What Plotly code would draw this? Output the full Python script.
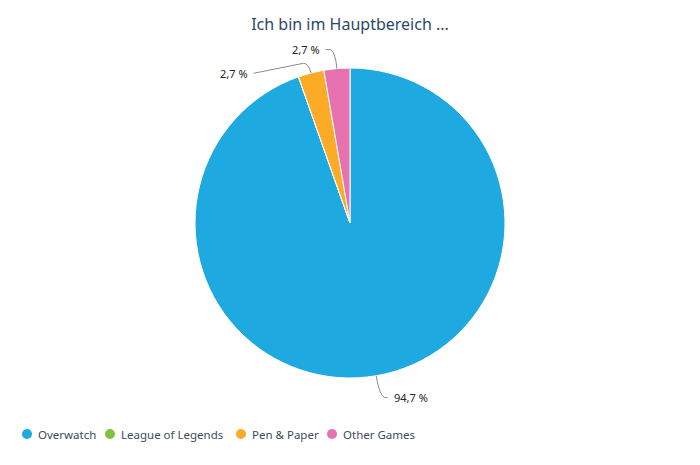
import math
import plotly.graph_objects as go

# data
categories = ["Overwatch", "League of Legends", "Pen & Paper", "Other Games"]
shares = [94.7, 0.0, 2.7, 2.7]
colors = ["#1fa9e1", "#80c342", "#fbab26", "#e871b0"]
title = "Ich bin im Hauptbereich ..."

W, H = 700, 465
mt, mb = 68, 87
ph = H - mt - mb
cx, cy, r = W / 2, mt + ph / 2, ph / 2


def px(x, y):
    # pixel -> paper coords
    return x / W, (H - mb - y) / ph


fig = go.Figure()

fig.add_trace(go.Pie(
    labels=categories,
    values=shares,
    marker=dict(colors=colors, line=dict(color="white", width=1)),
    sort=False,
    direction="clockwise",
    rotation=0,
    textinfo="none",
    hoverinfo="label+percent",
    showlegend=False,
))

# leader lines + labels, placed from each slice's mid angle
# (elbow distance, label dx/dy from the elbow, text side)
offsets = {
    "Overwatch": (20, 8, 2, "left"),
    "Pen & Paper": (10, -55, 10, "right"),
    "Other Games": (16, -10, -3, "right"),
}
total = sum(shares)
start = 0.0
for cat, val in zip(categories, shares):
    if val <= 0:
        continue
    mid = math.radians((start + val / 2) / total * 360)
    start += val
    d, dx, dy, side = offsets[cat]
    sx, sy = cx + r * math.sin(mid), cy - r * math.cos(mid)
    ex, ey = cx + (r + d) * math.sin(mid), cy - (r + d) * math.cos(mid)
    lx, ly = ex + dx, ey + dy
    bx = ex + (5 if side == "left" else -5)
    by = ey + (2 if side == "left" else (-3 if dy < 0 else 0))
    p = [px(sx, sy), px(ex, ey), px(bx, by), px(lx, ly)]
    path = "M {:.4f},{:.4f} Q {:.4f},{:.4f} {:.4f},{:.4f} L {:.4f},{:.4f}".format(
        p[0][0], p[0][1], p[1][0], p[1][1], p[2][0], p[2][1], p[3][0], p[3][1])
    fig.add_shape(type="path", path=path, xref="paper", yref="paper",
                  line=dict(color="#8a8a8a", width=1))
    tx, ty = px(lx + (4 if side == "left" else -4), ly)
    fig.add_annotation(
        x=tx, y=ty, xref="paper", yref="paper",
        text=("%.1f %%" % val).replace(".", ","),
        showarrow=False, xanchor=side, yanchor="middle",
        font=dict(size=11, color="#222222"),
    )

# legend row drawn by hand (dot + label), dot centre of each entry in px
legend_x = [27, 110, 241, 332]
legend_y = 434
for cat, col, lx in zip(categories, colors, legend_x):
    x0, y0 = px(lx - 5, legend_y - 5)
    x1, y1 = px(lx + 5, legend_y + 5)
    fig.add_shape(type="circle", xref="paper", yref="paper",
                  x0=x0, y0=y1, x1=x1, y1=y0,
                  fillcolor=col, line=dict(width=0))
    tx, ty = px(lx + 9, legend_y)
    fig.add_annotation(
        x=tx, y=ty, xref="paper", yref="paper", text=cat,
        showarrow=False, xanchor="left", yanchor="middle",
        font=dict(size=11.5, color="#3d4a5c"),
    )

fig.update_layout(
    width=W, height=H,
    margin=dict(l=0, r=0, t=mt, b=mb),
    paper_bgcolor="white", plot_bgcolor="white",
    font=dict(family="Noto Sans", color="#3d4a5c"),
    title=dict(text=title, x=0.5, xanchor="center", y=1 - 24 / H, yanchor="middle",
               font=dict(size=16, color="#2c4866")),
    showlegend=False,
)

fig.write_html("out.html", config={"displayModeBar": False},
               post_script="document.body.style.margin='0';")
